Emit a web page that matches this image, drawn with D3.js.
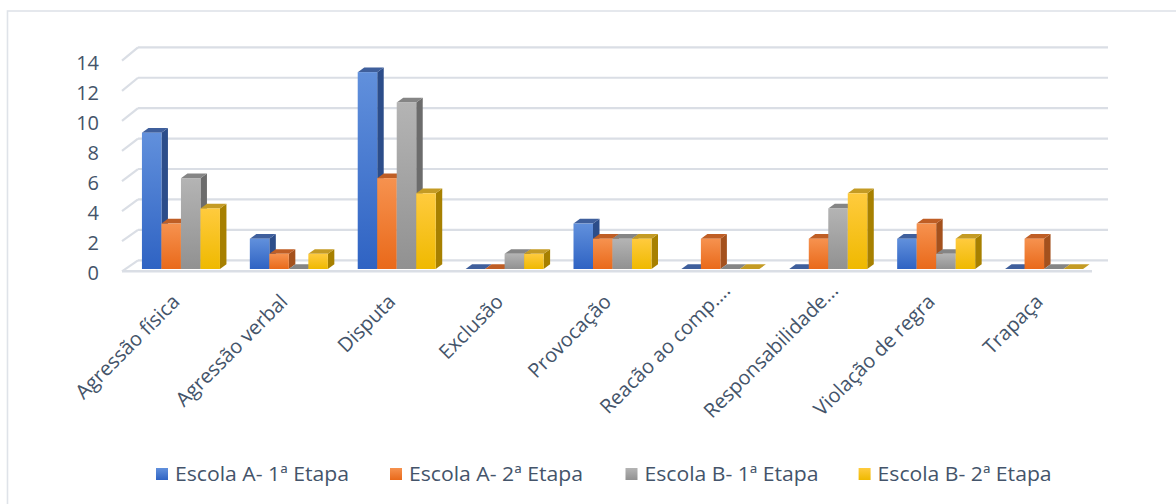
<!DOCTYPE html>
<html>
<head>
<meta charset="utf-8">
<script src="https://cdn.jsdelivr.net/npm/d3@7"></script>
<style>
  html, body { margin: 0; padding: 0; background: #fff; }
  svg { display: block; font-family: "Open Sans", "Noto Sans", sans-serif; }
</style>
</head>
<body>
<svg id="chart" width="1176" height="504"></svg>
<script>
// Categories of observed behaviour
const categories = [
  "Agressão física", "Agressão verbal", "Disputa", "Exclusão", "Provocação",
  "Reacão ao comp....", "Responsabilidade...", "Violação de regra", "Trapaça"
];
// Series (school + stage)
const series = ["Escola A- 1ª Etapa", "Escola A- 2ª Etapa", "Escola B- 1ª Etapa", "Escola B- 2ª Etapa"];
// Counts per category, one array per series
const escolaA1 = [9, 2, 13, 0, 3, 0, 0, 2, 0];
const escolaA2 = [3, 1, 6, 0, 2, 2, 2, 3, 2];
const escolaB1 = [6, 0, 11, 1, 2, 0, 4, 1, 0];
const escolaB2 = [4, 1, 5, 1, 2, 0, 5, 2, 0];
const seriesValues = [escolaA1, escolaA2, escolaB1, escolaB2];
// Value-axis ticks
const yTicks = [0, 2, 4, 6, 8, 10, 12, 14];

// Face colours: front gradient (top, bottom), side, top
const palette = [
  { top: "#6190dc", bottom: "#2f63c3", side: "#2c4d8a", cap: "#3f5f9c" },
  { top: "#f6924f", bottom: "#e9691a", side: "#a4511d", cap: "#bf5e25" },
  { top: "#b4b4b4", bottom: "#919191", side: "#6c6c6c", cap: "#858585" },
  { top: "#ffcb3e", bottom: "#efb900", side: "#a78000", cap: "#c49b24" }
];

const svg = d3.select("#chart");
const textColor = "#44546a";
const gridColor = "#dadee5";

// outer chart-area frame
svg.append("rect")
  .attr("x", 7.5).attr("y", 11).attr("width", 1200).attr("height", 600)
  .attr("fill", "none").attr("stroke", "#dfe3e9").attr("stroke-width", 1.6);

// gradients for the bar fronts
const defs = svg.append("defs");
palette.forEach((p, i) => {
  const g = defs.append("linearGradient").attr("id", "grad" + i)
    .attr("x1", 0).attr("y1", 0).attr("x2", 0).attr("y2", 1);
  g.append("stop").attr("offset", "0%").attr("stop-color", p.top);
  g.append("stop").attr("offset", "100%").attr("stop-color", p.bottom);
});

// Oblique 3D geometry: the back wall sits up and to the right of the front plane
const wallLeftFront = 122, wallLeftBack = 138, wallRightBack = 1108, floorRightFront = 1092;
const yFront = d3.scaleLinear().domain([0, 14]).range([271.3, 60.7]);
const yBack = d3.scaleLinear().domain([0, 14]).range([260.3, 47.3]);
const yBar = d3.scaleLinear().domain([0, 14]).range([269, 57]);

const x = d3.scaleBand().domain(categories).range([127, 1098])
  .paddingInner(0.277).paddingOuter(0.1385);
const xs = d3.scaleBand().domain(series).range([0, x.bandwidth()]);

const depthX = 6.5, depthY = -4.7;

// gridlines: back wall + short left side-wall segments
const grid = svg.append("g");
grid.selectAll("line.back").data(yTicks).join("line")
  .attr("x1", wallLeftBack).attr("x2", wallRightBack)
  .attr("y1", d => yBack(d)).attr("y2", d => yBack(d))
  .attr("stroke", gridColor).attr("stroke-width", 2.2);
grid.selectAll("line.side").data(yTicks).join("line")
  .attr("x1", wallLeftFront).attr("y1", d => yFront(d))
  .attr("x2", wallLeftBack).attr("y2", d => yBack(d))
  .attr("stroke", gridColor).attr("stroke-width", 2.2);
// floor front edge
grid.append("line")
  .attr("x1", wallLeftFront).attr("x2", floorRightFront)
  .attr("y1", yFront(0)).attr("y2", yFront(0))
  .attr("stroke", gridColor).attr("stroke-width", 2.4);

// value axis labels
svg.append("g").selectAll("text").data(yTicks).join("text")
  .attr("x", 99).attr("y", d => yFront(d) + 2).attr("dy", "0.35em")
  .attr("text-anchor", "end").attr("font-size", 20).attr("fill", textColor)
  .text(d => d);

// bars, painted left to right so each later box hides the side of the previous one
const bars = [];
categories.forEach((c, i) => {
  series.forEach((s, j) => {
    bars.push({ cat: c, s: j, v: seriesValues[j][i] });
  });
});
const barG = svg.append("g");
bars.forEach(b => {
  const x0 = x(b.cat) + xs(series[b.s]);
  const w = xs.bandwidth();
  const yT = yBar(b.v), yB = yBar(0);
  const p = palette[b.s];
  const g = barG.append("g");
  g.append("polygon")
    .attr("points", [[x0 + w, yT], [x0 + w + depthX, yT + depthY], [x0 + w + depthX, yB + depthY], [x0 + w, yB]].join(" "))
    .attr("fill", p.side);
  g.append("polygon")
    .attr("points", [[x0, yT], [x0 + w, yT], [x0 + w + depthX, yT + depthY], [x0 + depthX, yT + depthY]].join(" "))
    .attr("fill", p.cap);
  g.append("rect")
    .attr("x", x0).attr("y", yT).attr("width", w).attr("height", yB - yT)
    .attr("fill", "url(#grad" + b.s + ")");
});

// rotated category labels, each ending under its group centre;
// a trailing truncation ellipsis hangs past the anchor point
const labels = svg.append("g").selectAll("text").data(categories).join("text")
  .attr("transform", d => `translate(${x(d) + x.bandwidth() / 2},303) rotate(-45)`)
  .attr("text-anchor", "end").attr("font-size", 20).attr("fill", textColor)
  .text(d => d);
const probe = svg.append("text").attr("font-size", 20).attr("visibility", "hidden");
labels.attr("dx", d => {
  const m = d.match(/\.+$/);
  if (!m) return 0;
  probe.text("...");
  return probe.node().getComputedTextLength();
});
probe.remove();

// legend
const legendX = [155, 389, 624.5, 857.6];
const legend = svg.append("g").selectAll("g").data(series).join("g")
  .attr("transform", (d, i) => `translate(${legendX[i]},0)`);
legend.append("rect")
  .attr("x", 1).attr("y", 468).attr("width", 12).attr("height", 12)
  .attr("fill", (d, i) => `url(#grad${i})`);
legend.append("text")
  .attr("x", 20).attr("y", 481).attr("font-size", 20).attr("fill", textColor)
  .attr("textLength", 174).attr("lengthAdjust", "spacingAndGlyphs")
  .text(d => d);
</script>
</body>
</html>
